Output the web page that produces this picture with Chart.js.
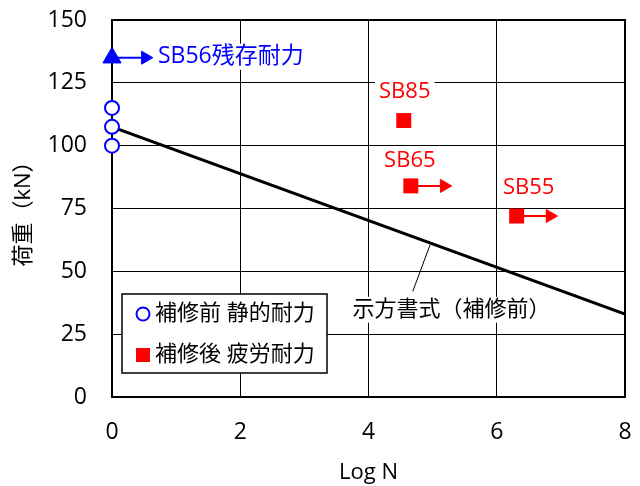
<!DOCTYPE html>
<html>
<head>
<meta charset="utf-8">
<script src="https://cdn.jsdelivr.net/npm/chart.js@4"></script>
<style>html,body{margin:0;padding:0;background:#fff}canvas{display:block}</style>
</head>
<body>
<canvas id="c" width="640" height="486"></canvas>
<script>
// ---- data ----
const xTickValues = [0, 2, 4, 6, 8];
const yTickValues = [0, 25, 50, 75, 100, 125, 150];

// 補修前 静的耐力 (all at log N = 0)
const staticLogN = [0, 0, 0];
const staticLoad = [115, 107.5, 100];

// SB56 残存耐力
const residualLogN = [0];
const residualLoad = [135];

// 補修後 疲労耐力
const fatigueNames = ['SB85', 'SB65', 'SB55'];
const fatigueLogN = [4.55, 4.66, 6.31];
const fatigueLoad = [110, 84, 72];
const fatigueRunOut = [false, true, true];

// 示方書式（補修前）
const designLogN = [0, 8];
const designLoad = [107.5, 33];

// ---- style ----
const FONT = '"Open Sans", "Noto Sans CJK JP", sans-serif';
const BLUE = '#0000ff';
const RED = '#ff0000';
const ARROW_LEN = 0.52;          // arrow length in log N units
const NAME_OFFSETS = [[1, -29], [-1, -25], [12, -28]];   // label px offsets from markers

const pts = (xs, ys) => xs.map((x, i) => ({ x, y: ys[i] }));

function arrowSet(x, y, color) {
  return {
    label: '',
    data: [{ x, y }, { x: x + ARROW_LEN, y }],
    showLine: true,
    borderColor: color,
    backgroundColor: color,
    borderWidth: 2,
    pointStyle: 'triangle',
    pointRotation: 90,
    pointRadius: [0, 7.5],
    pointBorderWidth: 1,
    clip: false
  };
}

const datasets = [
  {
    label: '補修前 静的耐力',
    data: pts(staticLogN, staticLoad),
    pointStyle: 'circle',
    pointRadius: 7,
    borderColor: BLUE,
    backgroundColor: '#fff',
    borderWidth: 2,
    clip: false
  },
  {
    label: 'SB56残存耐力',
    data: pts(residualLogN, residualLoad),
    pointStyle: 'triangle',
    pointRadius: 10.5,
    borderColor: BLUE,
    backgroundColor: BLUE,
    borderWidth: 1,
    clip: false
  },
  {
    label: '補修後 疲労耐力',
    data: pts(fatigueLogN, fatigueLoad),
    pointStyle: 'rect',
    pointRadius: 10.6,
    borderColor: RED,
    backgroundColor: RED,
    borderWidth: 0,
    clip: false
  },
  arrowSet(residualLogN[0], residualLoad[0], BLUE),
  ...fatigueLogN.map((x, i) => fatigueRunOut[i] ? arrowSet(x, fatigueLoad[i], RED) : null).filter(Boolean),
  {
    label: '示方書式（補修前）',
    data: pts(designLogN, designLoad),
    showLine: true,
    borderColor: '#000',
    borderWidth: 3,
    pointRadius: 0
  }
];

// plot frame, drawn over the grid but under the marks
const frame = {
  id: 'frame',
  beforeDatasetsDraw(chart) {
    const { ctx, chartArea: a } = chart;
    ctx.save();
    ctx.strokeStyle = '#000';
    ctx.lineWidth = 2;
    ctx.strokeRect(a.left, a.top, a.right - a.left, a.bottom - a.top);
    ctx.restore();
  }
};

function boxedText(ctx, text, x, y, align, color, size = 22) {
  ctx.font = `${size}px ${FONT}`;
  const w = ctx.measureText(text).width;
  const left = align === 'left' ? x : x - w / 2;
  ctx.fillStyle = '#fff';
  ctx.fillRect(left - 4, y - 13, w + 8, 26);
  ctx.fillStyle = color;
  ctx.textAlign = 'left';
  ctx.textBaseline = 'middle';
  ctx.fillText(text, left, y);
}

// specimen names, curve note and legend
const notes = {
  id: 'notes',
  afterDatasetsDraw(chart) {
    const { ctx, chartArea: a, scales: { x: sx, y: sy } } = chart;
    ctx.save();

    // SB56 residual label
    boxedText(ctx, datasets[1].label, sx.getPixelForValue(residualLogN[0]) + 46,
      sy.getPixelForValue(residualLoad[0]) - 1, 'left', BLUE, 23);

    // fatigue specimen names
    fatigueNames.forEach((n, i) => {
      const px = sx.getPixelForValue(fatigueLogN[i]) + NAME_OFFSETS[i][0];
      const py = sy.getPixelForValue(fatigueLoad[i]) + NAME_OFFSETS[i][1];
      boxedText(ctx, n, px, py, 'center', RED);
    });

    // design curve note with leader
    const t = 4.96;
    const yOn = designLoad[0] + (designLoad[1] - designLoad[0]) * (t - designLogN[0]) / (designLogN[1] - designLogN[0]);
    ctx.strokeStyle = '#000';
    ctx.lineWidth = 1;
    ctx.beginPath();
    ctx.moveTo(sx.getPixelForValue(t), sy.getPixelForValue(yOn) + 2);
    ctx.lineTo(sx.getPixelForValue(4.69), sy.getPixelForValue(42));
    ctx.stroke();
    boxedText(ctx, datasets[datasets.length - 1].label, sx.getPixelForValue(3.75),
      sy.getPixelForValue(34.7), 'left', '#000');

    // legend box
    const L = a.left + 10, T = a.bottom - 103, W = 205, H = 79;
    ctx.fillStyle = '#fff';
    ctx.fillRect(L, T, W, H);
    ctx.strokeStyle = '#000';
    ctx.lineWidth = 1.5;
    ctx.strokeRect(L, T, W, H);
    ctx.font = `22px ${FONT}`;
    ctx.textAlign = 'left';
    ctx.textBaseline = 'middle';
    // row 1: open circle
    ctx.beginPath();
    ctx.arc(L + 21, T + 20, 6.5, 0, Math.PI * 2);
    ctx.strokeStyle = BLUE;
    ctx.lineWidth = 2;
    ctx.stroke();
    ctx.fillStyle = '#000';
    ctx.fillText(datasets[0].label, L + 33, T + 20);
    // row 2: filled square
    ctx.fillStyle = RED;
    ctx.fillRect(L + 14, T + 54, 14, 14);
    ctx.fillStyle = '#000';
    ctx.fillText(datasets[2].label, L + 33, T + 61);
    ctx.restore();
  }
};

const tickFont = { family: FONT, size: 23 };

// keep the plot box fixed: no extra room for overhanging tick labels
function noLabelPadding(s) {
  s.paddingTop = s.paddingBottom = s.paddingLeft = s.paddingRight = 0;
}

new Chart(document.getElementById('c'), {
  type: 'scatter',
  data: { datasets },
  options: {
    responsive: false,
    animation: false,
    events: [],
    layout: { padding: { top: 20, right: 15, left: 0, bottom: 0 } },
    plugins: { legend: { display: false }, tooltip: { enabled: false } },
    scales: {
      x: {
        type: 'linear',
        min: xTickValues[0],
        max: xTickValues[xTickValues.length - 1],
        afterBuildTicks(s) { s.ticks = xTickValues.map(v => ({ value: v })); },
        ticks: { font: tickFont, color: '#000', padding: 22 },
        grid: { color: '#000', lineWidth: 1, drawTicks: false },
        border: { display: false },
        title: { display: true, text: 'Log N', color: '#000', font: { family: FONT, size: 22 }, padding: { top: 0, bottom: 0 } },
        afterFit(s) { s.height = 89; noLabelPadding(s); }
      },
      y: {
        type: 'linear',
        min: yTickValues[0],
        max: yTickValues[yTickValues.length - 1],
        afterBuildTicks(s) { s.ticks = yTickValues.map(v => ({ value: v })); },
        ticks: { font: tickFont, color: '#000', padding: 25 },
        grid: { color: '#000', lineWidth: 1, drawTicks: false },
        border: { display: false },
        title: { display: true, text: '荷重（kN）', color: '#000', font: { family: FONT, size: 22 }, padding: { top: 11, bottom: 0 } },
        afterFit(s) { s.width = 112; noLabelPadding(s); }
      }
    }
  },
  plugins: [frame, notes]
});
</script>
</body>
</html>
